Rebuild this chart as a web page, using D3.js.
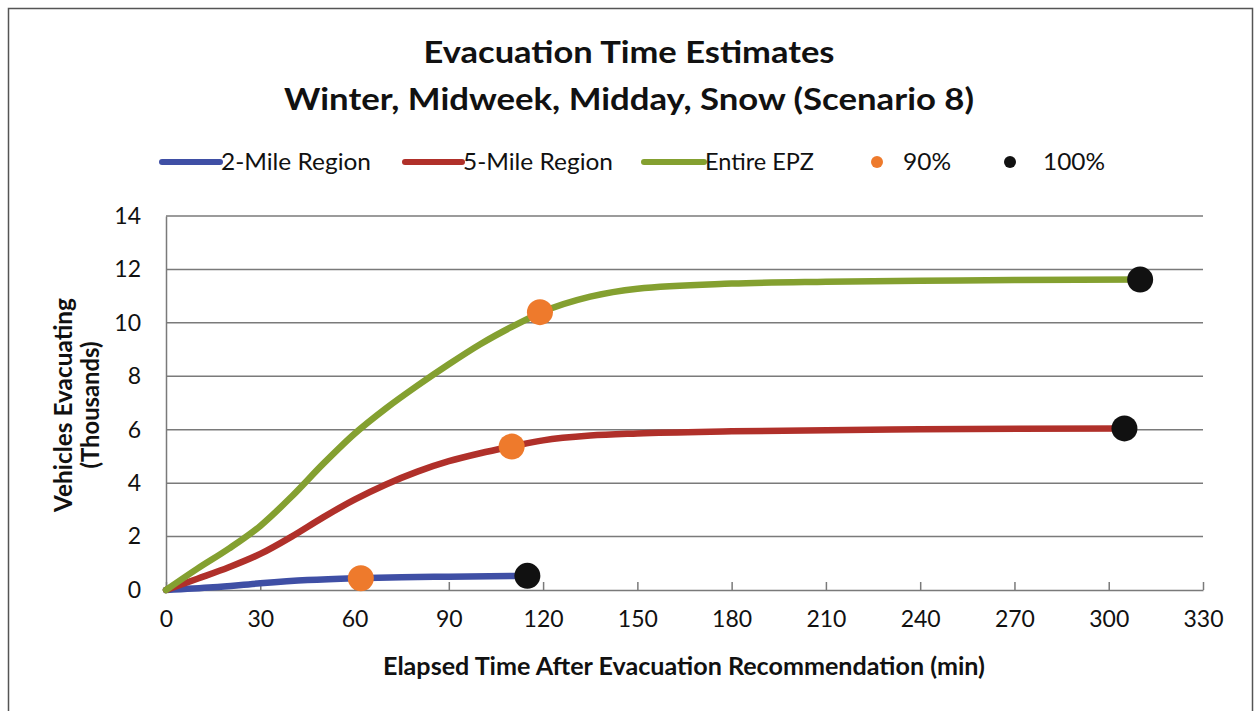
<!DOCTYPE html>
<html><head><meta charset="utf-8">
<script src="https://cdn.jsdelivr.net/npm/d3@7/dist/d3.min.js"></script>
<style>body{margin:0;background:#fff}svg{display:block}</style>
</head><body>
<svg id="c" width="1258" height="711"></svg>
<script>
const titleLines = ["Evacuation Time Estimates", "Winter, Midweek, Midday, Snow (Scenario 8)"];
const xTicks = [0,30,60,90,120,150,180,210,240,270,300,330];
const yTicks = [0,2,4,6,8,10,12,14];
const seriesNames = ["2-Mile Region","5-Mile Region","Entire EPZ"];
const seriesColors = ["#3f4fa5","#b0302a","#84a030"];
const twoMile = [[0,0],[15,0.1],[30,0.25],[45,0.37],[60,0.44],[75,0.48],[90,0.5],[115,0.53]];
const fiveMile = [[0,0],[10,0.42],[20,0.85],[30,1.35],[40,2.0],[50,2.72],[60,3.38],[70,3.95],[80,4.43],[90,4.82],[100,5.12],[110,5.37],[120,5.6],[135,5.78],[150,5.86],[180,5.94],[240,6.02],[305,6.05]];
const entireEPZ = [[0,0],[10,0.8],[20,1.55],[30,2.4],[40,3.5],[50,4.72],[60,5.85],[70,6.8],[80,7.65],[90,8.45],[100,9.2],[110,9.85],[120,10.42],[135,10.98],[150,11.28],[180,11.47],[210,11.54],[240,11.58],[270,11.6],[310,11.62]];
const pts90 = [[62,0.44],[110,5.37],[119,10.4]];
const pts100 = [[115,0.53],[305,6.05],[310,11.62]];

const svg = d3.select("#c");
const font = "Lato, 'Open Sans', sans-serif";
svg.append("rect").attr("x",8.5).attr("y",8.5).attr("width",1244).attr("height",712)
  .attr("fill","none").attr("stroke","#555").attr("stroke-width",1.5);

const x = d3.scaleLinear().domain([0,330]).range([166,1203]);
const y = d3.scaleLinear().domain([0,14]).range([590,216]);

const titleLen = [411, 690];
svg.selectAll("text.title").data(titleLines).enter().append("text")
  .attr("x",629).attr("y",(d,i)=>i===0?63:110).attr("text-anchor","middle")
  .attr("textLength",(d,i)=>titleLen[i]).attr("lengthAdjust","spacingAndGlyphs")
  .attr("font-family",font).attr("font-weight","bold").attr("font-size",30).attr("fill","#111").text(d=>d);

svg.append("g").selectAll("line").data(yTicks.filter(t=>t>0)).enter().append("line")
  .attr("x1",x(0)).attr("x2",x(330)).attr("y1",d=>y(d)).attr("y2",d=>y(d))
  .attr("stroke","#7a7a7a").attr("stroke-width",1.5);

const ya = svg.append("g").attr("transform",`translate(${x(0)},0)`)
  .call(d3.axisLeft(y).tickValues(yTicks).tickSize(0).tickPadding(25));
ya.select(".domain").attr("stroke","#7a7a7a").attr("stroke-width",1.5);
ya.selectAll("text").attr("font-family",font).attr("font-size",23).attr("fill","#111");

const xa = svg.append("g").attr("transform",`translate(0,${y(0)})`)
  .call(d3.axisBottom(x).tickValues(xTicks).tickSizeInner(-8).tickSizeOuter(0).tickPadding(21));
xa.select(".domain").attr("stroke","#7a7a7a").attr("stroke-width",1.5);
xa.selectAll(".tick line").attr("stroke","#7a7a7a").attr("stroke-width",1.5);
xa.selectAll("text").attr("font-family",font).attr("font-size",23).attr("fill","#111");

svg.append("text").attr("x",684).attr("y",675).attr("text-anchor","middle")
  .attr("textLength",602).attr("lengthAdjust","spacingAndGlyphs")
  .attr("font-family",font).attr("font-weight","bold").attr("font-size",25).attr("fill","#111")
  .text("Elapsed Time After Evacuation Recommendation (min)");
const yt = svg.append("text").attr("transform","translate(72,405) rotate(-90)").attr("text-anchor","middle")
  .attr("font-family",font).attr("font-weight","bold").attr("font-size",25).attr("fill","#111");
yt.append("tspan").attr("x",0).attr("dy",0).attr("textLength",214).attr("lengthAdjust","spacingAndGlyphs").text("Vehicles Evacuating");
yt.append("tspan").attr("x",0).attr("dy",27).attr("textLength",127).attr("lengthAdjust","spacingAndGlyphs").text("(Thousands)");

const line = d3.line().x(d=>x(d[0])).y(d=>y(d[1])).curve(d3.curveMonotoneX);
[twoMile,fiveMile,entireEPZ].forEach((s,i)=>{
  svg.append("path").datum(s).attr("d",line).attr("fill","none")
    .attr("stroke",seriesColors[i]).attr("stroke-width",6.5).attr("stroke-linecap","round");
});
svg.selectAll("circle.p90").data(pts90).enter().append("circle")
  .attr("cx",d=>x(d[0])).attr("cy",d=>y(d[1])).attr("r",13).attr("fill","#ee7a2c");
svg.selectAll("circle.p100").data(pts100).enter().append("circle")
  .attr("cx",d=>x(d[0])).attr("cy",d=>y(d[1])).attr("r",13).attr("fill","#111");

const lg = svg.append("g");
const legLines = [[162,220],[405,462],[644,704]];
const legLen = [150,150,109];
seriesNames.forEach((n,i)=>{
  lg.append("line").attr("x1",legLines[i][0]).attr("x2",legLines[i][1]).attr("y1",162).attr("y2",162)
    .attr("stroke",seriesColors[i]).attr("stroke-width",6).attr("stroke-linecap","round");
  lg.append("text").attr("x",legLines[i][1]+1).attr("y",170).attr("font-family",font).attr("font-size",23)
    .attr("textLength",legLen[i]).attr("lengthAdjust","spacingAndGlyphs")
    .attr("fill","#111").text(n);
});
lg.append("circle").attr("cx",877).attr("cy",162).attr("r",6).attr("fill","#ee7a2c");
lg.append("text").attr("x",903).attr("y",170).attr("font-family",font).attr("font-size",23)
  .attr("textLength",48).attr("lengthAdjust","spacingAndGlyphs").attr("fill","#111").text("90%");
lg.append("circle").attr("cx",1010).attr("cy",162).attr("r",6).attr("fill","#111");
lg.append("text").attr("x",1043).attr("y",170).attr("font-family",font).attr("font-size",23)
  .attr("textLength",62).attr("lengthAdjust","spacingAndGlyphs").attr("fill","#111").text("100%");
</script>
</body></html>
